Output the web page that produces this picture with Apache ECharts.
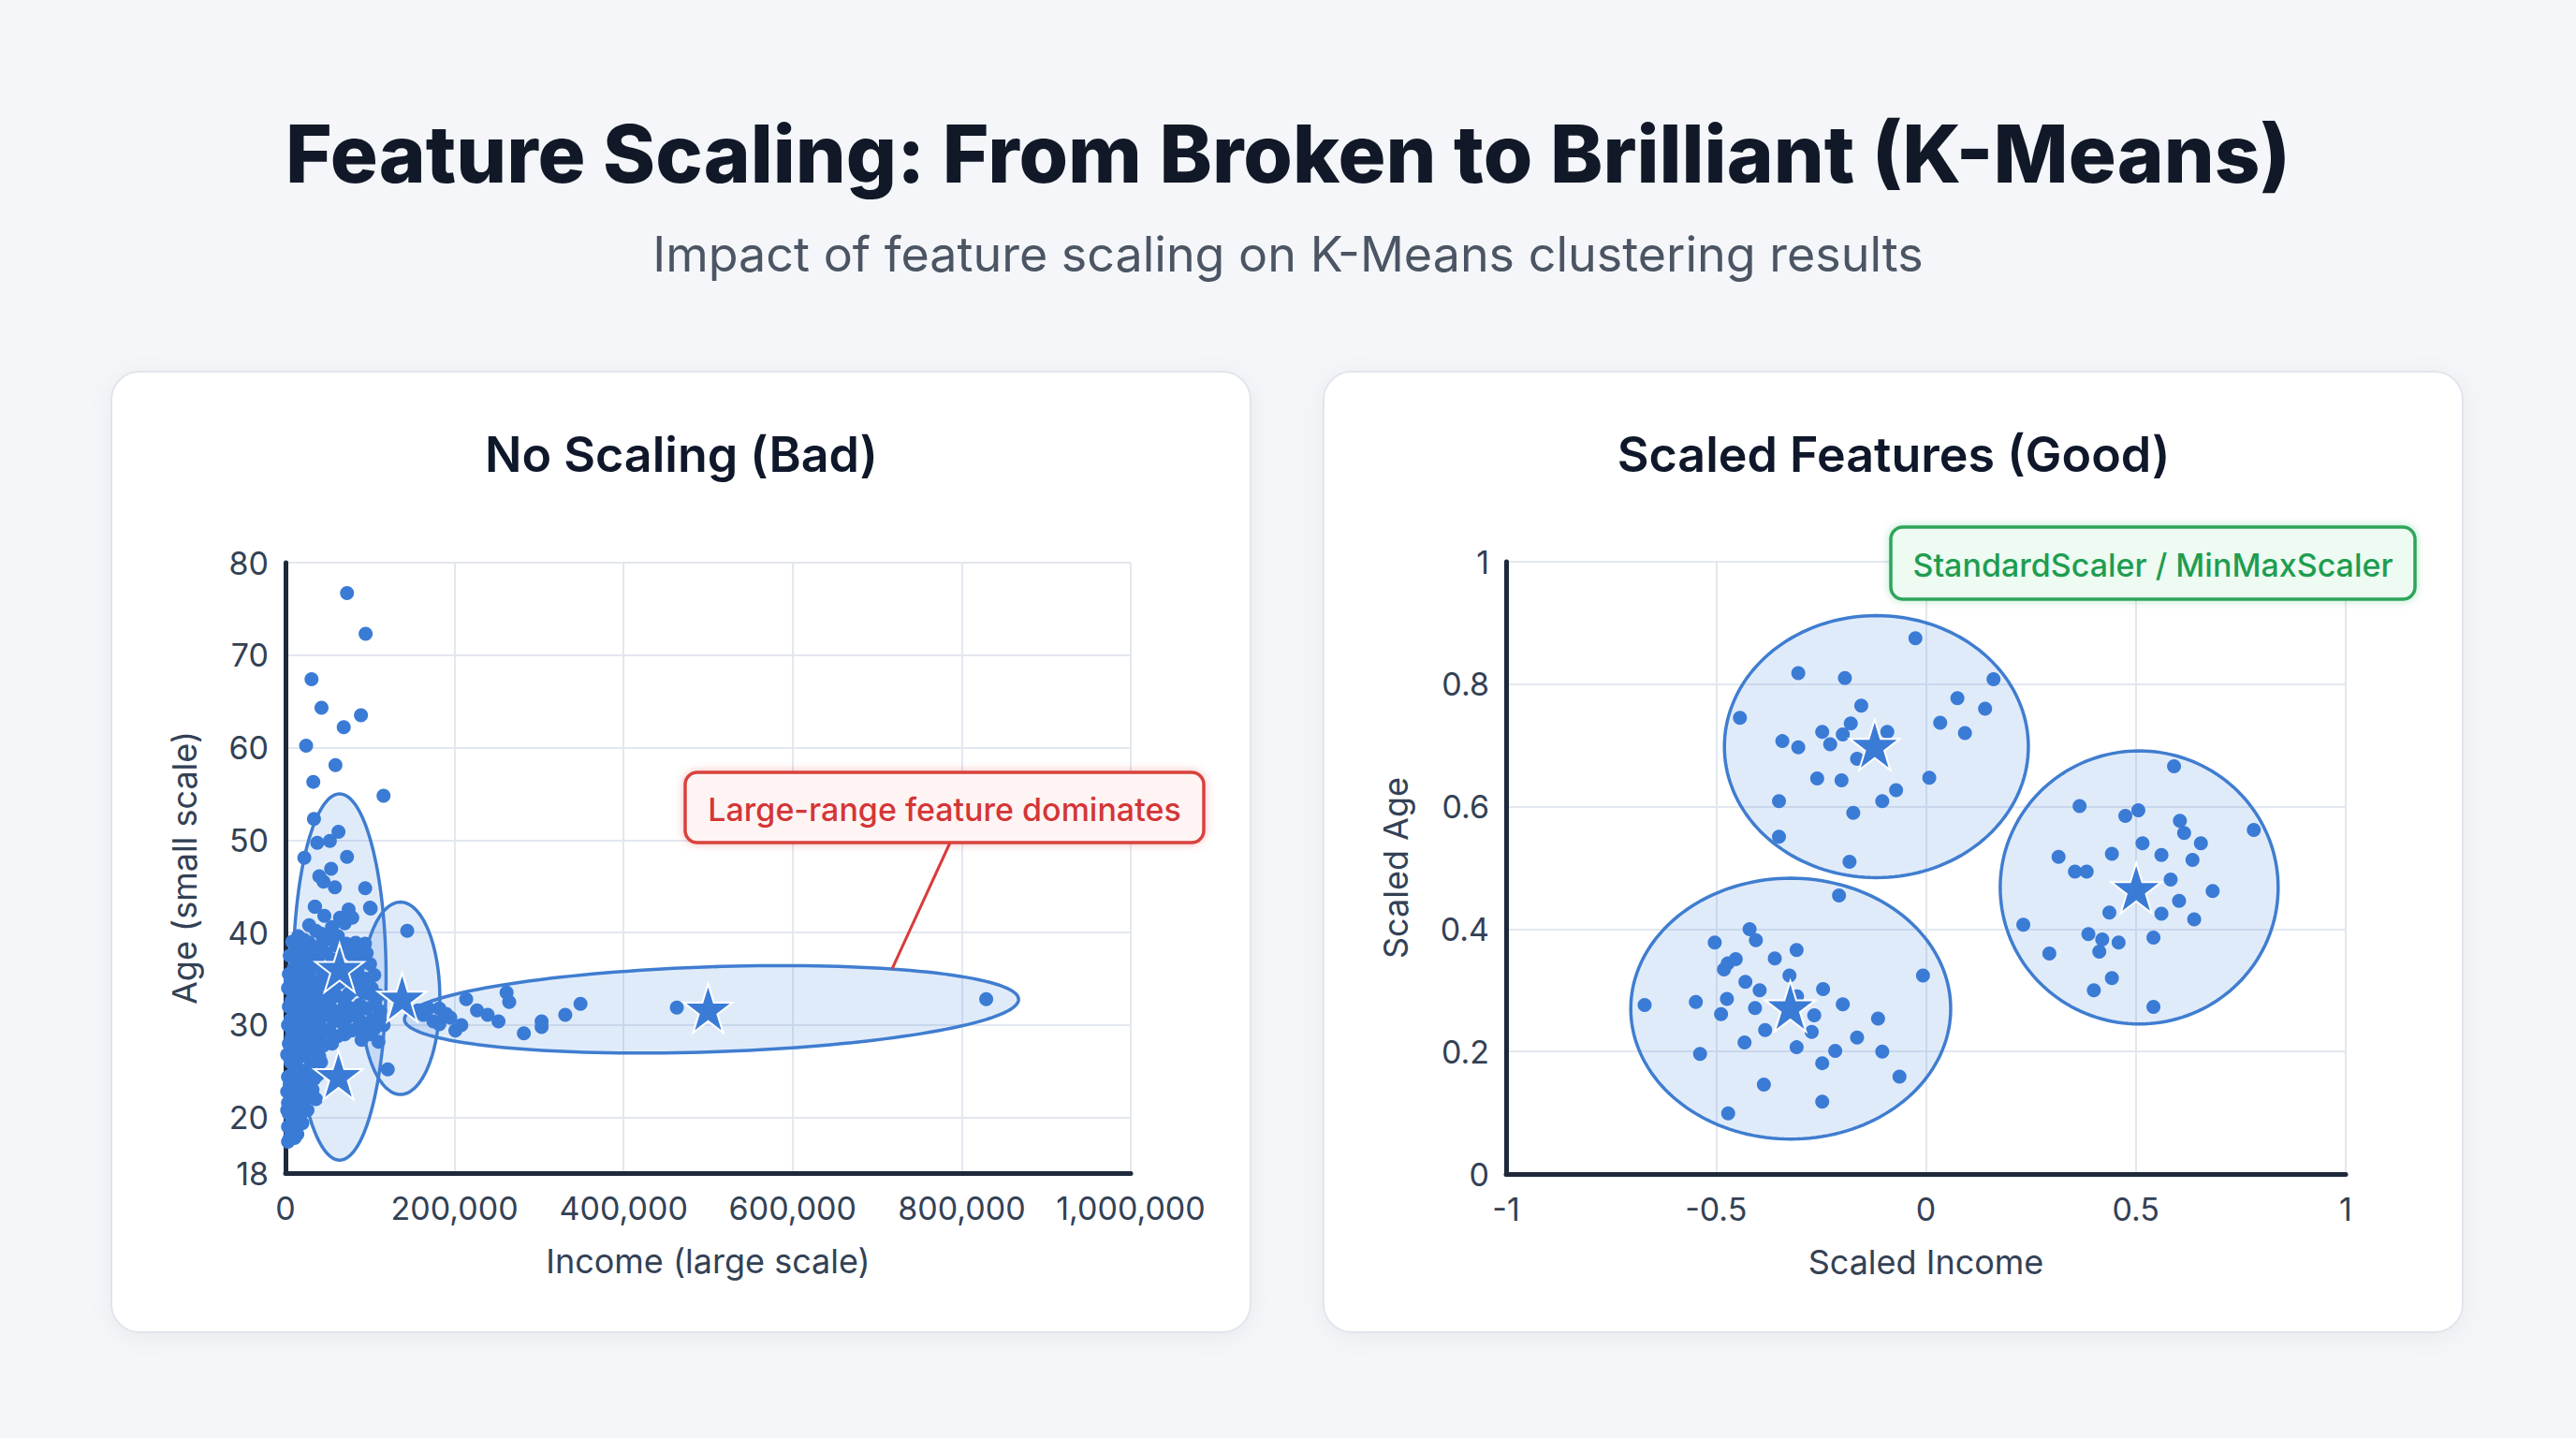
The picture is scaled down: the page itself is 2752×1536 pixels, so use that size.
<!DOCTYPE html>
<html>
<head>
<meta charset="utf-8">
<script src="https://cdn.jsdelivr.net/npm/echarts@6/dist/echarts.min.js"></script>
<style>
  html, body { margin: 0; padding: 0; background: #f4f6f9; }
  #chart { width: 2752px; height: 1536px; }
</style>
</head>
<body>
<div id="chart"></div>
<script>
// ---------------- DATA ----------------
const titleText = 'Feature Scaling: From Broken to Brilliant (K-Means)';
const subtitleText = 'Impact of feature scaling on K-Means clustering results';
const leftTitle = 'No Scaling (Bad)';
const rightTitle = 'Scaled Features (Good)';
const leftNote = 'Large-range feature dominates';
const rightNote = 'StandardScaler / MinMaxScaler';

// Left panel: [income, age]
const rawPoints = [
  [72800,76.7],[94800,72.3],[30800,67.4],[42600,64.3],[89300,63.5],[68900,62.2],[24400,60.2],[59100,58.1],
  [32900,56.3],[116000,54.8],[33700,52.3],[62700,50.9],[37600,49.7],[52500,49.9],[22300,48.1],[72800,48.2],
  [54000,46.9],[40000,46.1],[45000,45.5],[58400,44.9],[94300,44.8],[34600,42.8],[100800,42.6],[74700,42.5],
  [46000,41.8],[66400,41.4],[70000,41.0],[144000,40.2],[35000,42.8],[64500,41.6],[79000,41.6],[100000,42.7],
  [42000,39.9],[28000,38.9],[50000,39.3],[72000,38.8],[83000,38.9],[94000,38.8],
  [28000,40.8],[36000,40.2],[55000,40.6],[62000,39.6],
  [5000,37.5],[12000,38.2],[18000,37.0],[26000,38.0],[33000,37.4],[40000,38.3],[48000,37.8],[56000,37.1],
  [68000,38.0],[78000,37.6],[90000,37.0],[100000,36.6],[4000,35.5],[10000,36.2],[20000,35.8],[30000,36.0],
  [45000,35.6],[55000,36.4],[75000,35.4],[85000,35.9],[95000,35.0],
  [8000,39.0],[15000,39.6],[22000,39.2],[44000,39.0],[60000,38.6],[85000,38.2],[96000,37.8],[14000,36.8],
  [24000,36.6],[38000,36.8],[50000,36.2],[62000,36.8],[70000,36.0],[82000,36.6],[105000,35.4],
  [3000,34.0],[9000,33.5],[15000,34.4],[22000,33.0],[28000,34.2],[36000,33.6],[44000,32.8],[52000,34.0],
  [60000,33.2],[70000,32.6],[80000,33.8],[88000,32.2],[98000,33.4],[106000,32.5],[112000,31.5],
  [6000,34.8],[12000,35.0],[18000,33.2],[26000,35.0],[32000,34.6],[40000,34.8],[48000,34.4],[56000,33.0],
  [64000,34.6],[75000,33.4],[84000,34.6],[92000,33.6],[102000,34.0],[110000,33.2],
  [4000,32.0],[11000,31.2],[18000,32.2],[25000,31.0],[33000,31.8],[40000,30.6],[48000,31.4],[57000,30.4],
  [65000,31.6],[73000,30.8],[83000,31.2],[93000,30.2],[103000,30.6],[116000,30.0],
  [7000,32.6],[14000,32.8],[21000,31.8],[30000,32.4],[37000,32.0],[44000,31.0],[52000,32.2],[61000,31.2],
  [69000,30.0],[78000,31.8],[87000,30.6],[96000,31.8],[108000,30.8],[6000,30.6],[17000,29.8],[25000,30.2],
  [33000,29.2],[42000,29.8],[52000,29.4],[70000,29.0],[84000,29.6],[105000,29.6],
  [3000,30.0],[8000,29.2],[14000,30.4],[21000,29.0],[29000,29.6],[37000,28.6],[46000,29.2],[62000,28.8],
  [78000,29.4],[90000,28.4],[100000,29.0],[110000,28.2],
  [7000,28.6],[13000,28.8],[20000,27.8],[28000,28.2],[35000,28.0],[45000,27.8],[55000,28.0],[2000,26.8],
  [9000,26.4],[18000,26.6],[27000,26.6],[35000,26.2],[42000,26.0],
  [4000,28.0],[10000,27.2],[17000,28.2],[24000,26.8],[32000,27.6],[40000,26.6],[6000,26.0],[14000,25.4],
  [22000,25.0],[30000,25.8],[38000,24.6],[3000,24.4],[121000,25.2],
  [9000,24.8],[18000,24.2],[26000,24.4],[34000,24.2],[2000,22.8],[8000,22.4],[16000,23.2],[24000,22.0],
  [32000,23.0],[3000,21.6],[12000,21.0],[20000,20.6],[8000,20.0],[16000,19.6],[3000,19.0],[9000,18.6],
  [5000,17.8],[2000,20.8],
  [5000,23.6],[12000,23.0],[20000,22.6],[28000,23.4],[36000,22.0],[8000,21.6],[16000,21.2],[26000,20.8],
  [4000,20.4],[12000,19.8],[20000,19.4],[6000,18.8],[14000,18.2],[10800,17.8],[3000,17.4],
  [157000,31.6],[163000,31.1],[169000,31.8],[175000,30.4],[182000,31.8],[182000,30.1],[190000,31.2],
  [195000,30.8],[201000,29.4],[208000,30.0],[213800,32.8],[226600,31.6],[239200,31.1],[252000,30.4],
  [261600,33.5],[264700,32.5],[282000,29.1],[303000,30.4],[303000,29.8],[331000,31.1],[349000,32.3],
  [463000,31.9],[829000,32.8]
];
const rawCentroids = [[64000,36.2],[62700,24.6],[138000,33.0],[500000,31.8]];
// [centerIncome, centerAge, radiusIncome, radiusAge, tiltDeg]
const rawClusters = [[64000,35.2,55000,19.8,0],[136000,32.9,46600,10.4,0],[504000,31.7,363500,4.6,-1.9]];

// Right panel: [scaled income, scaled age]
const scaledPoints = [
  [-0.025,0.875],[-0.304,0.818],[-0.193,0.810],[0.161,0.808],[0.075,0.777],[0.141,0.760],[-0.154,0.765],
  [-0.443,0.745],[-0.179,0.736],[0.034,0.737],[-0.247,0.722],[-0.198,0.718],[-0.092,0.722],[0.093,0.720],
  [-0.342,0.707],[-0.304,0.697],[-0.228,0.702],[-0.164,0.678],[-0.259,0.646],[-0.201,0.643],[0.008,0.647],
  [-0.071,0.627],[-0.104,0.609],[-0.350,0.609],[-0.173,0.590],[-0.350,0.551],[-0.182,0.510],
  [-0.207,0.455],[-0.420,0.400],[-0.405,0.382],[-0.503,0.378],[-0.308,0.366],[-0.453,0.351],[-0.472,0.344],
  [-0.360,0.352],[-0.481,0.334],[-0.325,0.324],[-0.007,0.324],[-0.430,0.314],[-0.245,0.302],[-0.396,0.300],
  [-0.474,0.286],[-0.307,0.290],[-0.670,0.276],[-0.548,0.281],[-0.407,0.271],[-0.198,0.277],[-0.488,0.261],
  [-0.266,0.259],[-0.114,0.254],[-0.383,0.235],[-0.272,0.232],[-0.432,0.215],[-0.164,0.223],[-0.308,0.207],
  [-0.216,0.201],[-0.104,0.200],[-0.538,0.196],[-0.247,0.181],[-0.063,0.159],[-0.386,0.146],[-0.247,0.118],
  [-0.471,0.099],
  [0.591,0.666],[0.366,0.601],[0.475,0.585],[0.506,0.594],[0.605,0.577],[0.615,0.557],[0.781,0.562],
  [0.655,0.540],[0.316,0.518],[0.443,0.523],[0.516,0.540],[0.561,0.521],[0.635,0.513],[0.355,0.494],
  [0.383,0.494],[0.583,0.481],[0.683,0.462],[0.232,0.407],[0.437,0.427],[0.603,0.446],[0.561,0.425],
  [0.639,0.416],[0.387,0.392],[0.420,0.383],[0.459,0.378],[0.542,0.386],[0.413,0.363],[0.294,0.360],
  [0.443,0.320],[0.400,0.300],[0.542,0.273]
];
const scaledCentroids = [[-0.122,0.701],[-0.323,0.274],[0.501,0.467]];
const scaledClusters = [[-0.118,0.698,0.362,0.214,0],[-0.322,0.270,0.381,0.213,0],[0.508,0.468,0.331,0.223,0]];

// Axis ticks
const incomeTicks = [0, 200000, 400000, 600000, 800000, 1000000];
const ageTickValues = [14, 20, 30, 40, 50, 60, 70, 80];
const ageTickLabels = ['18', '20', '30', '40', '50', '60', '70', '80'];

// ---------------- STYLE ----------------
const FONT = 'Inter, "Noto Sans", sans-serif';
const BLUE = '#3a7bd6';
const STAR = 'path://M50,0 L61.2,34.5 L97.6,34.5 L68.2,55.9 L79.4,90.5 L50,69.1 L20.6,90.5 L31.8,55.9 L2.4,34.5 L38.8,34.5 Z';

function ellipseRender(params, api) {
  const c = api.coord([api.value(0), api.value(1)]);
  const s = api.size([api.value(2), api.value(3)]);
  const a = api.value(4) * Math.PI / 180;
  const pts = [];
  const N = 160;
  for (let i = 0; i < N; i++) {
    const t = i / N * Math.PI * 2;
    const x = s[0] * Math.cos(t), y = s[1] * Math.sin(t);
    pts.push([c[0] + x * Math.cos(a) - y * Math.sin(a), c[1] + x * Math.sin(a) + y * Math.cos(a)]);
  }
  return {
    type: 'polygon',
    shape: { points: pts },
    style: { fill: 'rgba(74,138,226,0.17)', stroke: '#3f7dd0', lineWidth: 3.5 }
  };
}

const axisNameStyle = { color: '#334155', fontSize: 36, fontFamily: FONT };
const axisLabelStyle = { color: '#334155', fontSize: 34, fontFamily: FONT };
const axisLineStyle = { show: true, onZero: false, lineStyle: { color: '#1e293b', width: 5 } };
const splitLineStyle = { show: true, lineStyle: { color: '#e3e7ef', width: 2 } };

const chart = echarts.init(document.getElementById('chart'), null, { renderer: 'svg' });

function card(x) {
  return {
    type: 'rect', z: -10,
    shape: { x: x, y: 397, width: 1217, height: 1026, r: 30 },
    style: { fill: '#ffffff', stroke: '#e1e5ec', lineWidth: 2, shadowBlur: 24, shadowColor: 'rgba(15,23,42,0.05)', shadowOffsetY: 4 }
  };
}

const option = {
  backgroundColor: '#f4f6f9',
  animation: false,
  graphic: [
    card(119),
    card(1414),
    { type: 'text', z: 10, style: { text: titleText, x: 1376, y: 164, align: 'center', verticalAlign: 'middle', fill: '#111827', fontSize: 85, fontWeight: 800, fontFamily: FONT } },
    { type: 'text', z: 10, style: { text: subtitleText, x: 1376, y: 271, align: 'center', verticalAlign: 'middle', fill: '#4b5563', fontSize: 52, fontWeight: 400, fontFamily: FONT } },
    { type: 'text', z: 10, style: { text: leftTitle, x: 728, y: 485, align: 'center', verticalAlign: 'middle', fill: '#0f172a', fontSize: 52, fontWeight: 600, fontFamily: FONT } },
    { type: 'text', z: 10, style: { text: rightTitle, x: 2023, y: 485, align: 'center', verticalAlign: 'middle', fill: '#0f172a', fontSize: 52, fontWeight: 600, fontFamily: FONT } },
    // red annotation
    { type: 'line', z: 50, shape: { x1: 1015, y1: 900, x2: 953, y2: 1035 }, style: { stroke: '#d93b3b', lineWidth: 3 } },
    { type: 'rect', z: 51, shape: { x: 732, y: 825, width: 554, height: 75, r: 13 }, style: { fill: '#fff4f4', stroke: '#d9423d', lineWidth: 3.5, shadowBlur: 10, shadowColor: 'rgba(220,38,38,0.25)' } },
    { type: 'text', z: 52, style: { text: leftNote, x: 1009, y: 864, align: 'center', verticalAlign: 'middle', fill: '#d43636', fontSize: 34, fontWeight: 500, fontFamily: FONT } },
    // green annotation
    { type: 'rect', z: 51, shape: { x: 2020, y: 563, width: 560, height: 77, r: 13 }, style: { fill: '#edfbf2', stroke: '#2ea55a', lineWidth: 3.5, shadowBlur: 10, shadowColor: 'rgba(34,170,80,0.3)' } },
    { type: 'text', z: 52, style: { text: rightNote, x: 2300, y: 603, align: 'center', verticalAlign: 'middle', fill: '#1f9d50', fontSize: 34, fontWeight: 500, fontFamily: FONT } }
  ],
  grid: [
    { left: 305, top: 601, width: 903, height: 652, containLabel: false },
    { left: 1609, top: 600, width: 897, height: 654, containLabel: false }
  ],
  xAxis: [
    {
      gridIndex: 0, type: 'value', min: incomeTicks[0], max: incomeTicks[incomeTicks.length - 1], interval: 200000,
      name: 'Income (large scale)', nameLocation: 'middle', nameGap: 76, nameTextStyle: axisNameStyle,
      axisLine: axisLineStyle, axisTick: { show: false }, splitLine: splitLineStyle,
      axisLabel: Object.assign({ margin: 20, formatter: v => v.toLocaleString('en-US') }, axisLabelStyle)
    },
    {
      gridIndex: 1, type: 'value', min: -1, max: 1, interval: 0.5,
      name: 'Scaled Income', nameLocation: 'middle', nameGap: 76, nameTextStyle: axisNameStyle,
      axisLine: axisLineStyle, axisTick: { show: false }, splitLine: splitLineStyle,
      axisLabel: Object.assign({ margin: 20 }, axisLabelStyle)
    }
  ],
  yAxis: [
    {
      gridIndex: 0, type: 'value', min: ageTickValues[0], max: ageTickValues[ageTickValues.length - 1],
      name: 'Age (small scale)', nameLocation: 'middle', nameGap: 90, nameTextStyle: axisNameStyle,
      axisLine: axisLineStyle,
      axisTick: { show: false, customValues: ageTickValues },
      splitLine: splitLineStyle,
      axisLabel: Object.assign({ margin: 18, customValues: ageTickValues,
        formatter: v => ageTickLabels[ageTickValues.indexOf(v)] ?? String(v) }, axisLabelStyle)
    },
    {
      gridIndex: 1, type: 'value', min: 0, max: 1, interval: 0.2,
      name: 'Scaled Age', nameLocation: 'middle', nameGap: 100, nameTextStyle: axisNameStyle,
      axisLine: axisLineStyle, axisTick: { show: false }, splitLine: splitLineStyle,
      axisLabel: Object.assign({ margin: 18 }, axisLabelStyle)
    }
  ],
  series: [
    { type: 'custom', xAxisIndex: 0, yAxisIndex: 0, renderItem: ellipseRender, data: rawClusters, encode: { x: 0, y: 1 }, z: 1, silent: true },
    { type: 'scatter', xAxisIndex: 0, yAxisIndex: 0, data: rawPoints, symbolSize: 15, itemStyle: { color: BLUE, opacity: 1 }, z: 3 },
    { type: 'scatter', xAxisIndex: 0, yAxisIndex: 0, data: rawCentroids, symbol: STAR, symbolSize: 52, itemStyle: { color: BLUE, opacity: 1, borderColor: '#ffffff', borderWidth: 2 }, z: 5 },
    { type: 'custom', xAxisIndex: 1, yAxisIndex: 1, renderItem: ellipseRender, data: scaledClusters, encode: { x: 0, y: 1 }, z: 1, silent: true },
    { type: 'scatter', xAxisIndex: 1, yAxisIndex: 1, data: scaledPoints, symbolSize: 15, itemStyle: { color: BLUE, opacity: 1 }, z: 3 },
    { type: 'scatter', xAxisIndex: 1, yAxisIndex: 1, data: scaledCentroids, symbol: STAR, symbolSize: 54, itemStyle: { color: BLUE, opacity: 1, borderColor: '#ffffff', borderWidth: 2 }, z: 5 }
  ]
};
chart.setOption(option);
</script>
</body>
</html>
